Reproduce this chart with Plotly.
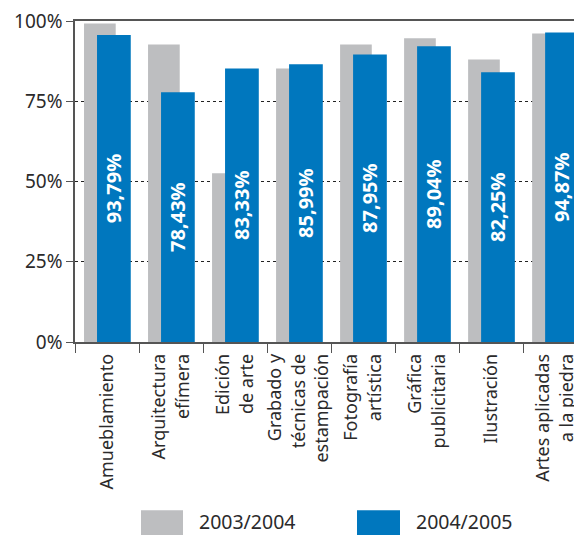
import plotly.graph_objects as go

categories = ["Amueblamiento", "Arquitectura<br>efímera", "Edición<br>de arte",
              "Grabado y<br>técnicas de<br>estampación", "Fotografía<br>artística",
              "Gráfica<br>publicitaria", "Ilustración", "Artes aplicadas<br>a la piedra"]
values_2003 = [99.2, 92.7, 52.6, 85.2, 92.7, 94.6, 88.0, 96.1]
values_2004 = [95.6, 77.8, 85.2, 86.5, 89.6, 92.1, 84.0, 96.4]
labels_2004 = ["93,79%", "78,43%", "83,33%", "85,99%", "87,95%", "89,04%", "82,25%", "94,87%"]
series_names = ["2003/2004", "2004/2005"]
y_ticks = [0, 25, 50, 75, 100]
y_ticklabels = ["0%", "25%", "50%", "75%", "100%"]

GRAY = "#BDBEC0"
BLUE = "#0077BE"
TXT = "#2b2a2b"
FONT = "Noto Sans"

# page body has an 8px margin; size the figure to fill the rest of the window
OFF = 8
W, H = 582 - OFF, 535 - OFF
L, R, T, B = 75 - OFF, 0, 20.5 - OFF, 192.7

fig = go.Figure()
fig.add_trace(go.Bar(x=categories, y=values_2003, name=series_names[0],
                     marker=dict(color=GRAY, line=dict(width=0)),
                     offset=-0.359, width=0.495, showlegend=False))
fig.add_trace(go.Bar(x=categories, y=values_2004, name=series_names[1],
                     marker=dict(color=BLUE, line=dict(width=0)),
                     offset=-0.156, width=0.527, showlegend=False,
                     text=labels_2004, textposition="inside", insidetextanchor="middle",
                     textangle=-90, constraintext="none",
                     textfont=dict(family=FONT, size=20, color="white", weight="bold")))

fig.update_layout(
    width=W, height=H, barmode="overlay",
    margin=dict(l=L, r=R, t=T, b=B, pad=0),
    plot_bgcolor="white", paper_bgcolor="white",
    font=dict(family=FONT, color=TXT),
    xaxis=dict(type="category", range=[-0.5, 7.42], tickson="boundaries",
               ticks="outside", ticklen=9, tickcolor="#555", tickwidth=1.2,
               showline=True, linecolor="#555", linewidth=1.5, mirror=True,
               tickangle=-90, tickfont=dict(size=18, color=TXT, family=FONT),
               ticklabelstandoff=3,
               showgrid=False, automargin=False, ticklabeloverflow="allow"),
    yaxis=dict(range=[0, 100], tickvals=y_ticks, ticktext=y_ticklabels,
               ticks="outside", ticklen=7, tickcolor="#555", tickwidth=1.2,
               showline=True, linecolor="#555", linewidth=1.5,
               showgrid=True, gridcolor="#222", griddash="dot", gridwidth=1,
               tickfont=dict(size=19, color=TXT, family=FONT), zeroline=False,
               automargin=False, ticklabeloverflow="allow"),
)

# legend drawn manually to match the large swatches (window pixel coords)
pw = W - L - R
ph = H - T - B
def px_x(px):
    return (px - OFF - L) / pw
def px_y(py):
    return (H - B - (py - OFF)) / ph

swatches = [(141, 183, GRAY, 197), (357, 400, BLUE, 414)]
for (x0, x1, col, tx), name in zip(swatches, series_names):
    fig.add_shape(type="rect", xref="paper", yref="paper",
                  x0=px_x(x0), x1=px_x(x1), y0=px_y(545), y1=px_y(511),
                  fillcolor=col, line=dict(width=0), layer="above")
    fig.add_annotation(xref="paper", yref="paper", x=px_x(tx), y=px_y(522),
                       text=name, showarrow=False, xanchor="left", yanchor="middle",
                       font=dict(size=19.5, color=TXT, family=FONT))

fig.write_html("out.html")
